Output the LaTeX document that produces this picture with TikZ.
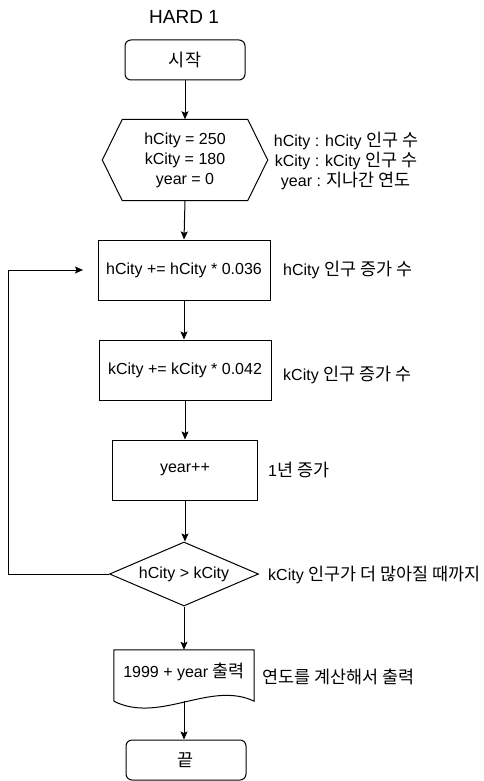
\documentclass[tikz,border=0pt]{standalone}
\usepackage{fontspec}
\setmainfont{Liberation Sans}
\newfontfamily\krfont[Scale=1.09]{Noto Sans CJK KR}
\newcommand{\ko}[1]{{\krfont #1}}
\usetikzlibrary{arrows.meta,calc,shapes.geometric}

\tikzset{
  flowbox/.style={draw, line width=1pt, align=center, inner sep=0pt, minimum height=60pt},
  termbox/.style={flowbox, rounded corners=6pt, minimum width=120pt, minimum height=40pt},
  condbox/.style={flowbox, diamond, aspect=2.3, minimum width=149pt, minimum height=64pt},
  plainbox/.style={align=center, inner sep=0pt},
  note/.style={anchor=west, inner sep=0pt},
  link/.style={line width=1pt, -{Stealth[length=8pt,width=7pt,inset=1.5pt]}},
}

\begin{document}
\begin{tikzpicture}[x=1pt,y=-1pt,every node/.style={font=\fontsize{16}{20}\selectfont}]
  \useasboundingbox (0,0) rectangle (483,781);

  \node[font=\fontsize{19}{22}\selectfont] (title) at (184,17) {HARD 1};

  % flow
  \node[termbox] (start) at (185,60) {\ko{시작}};
  \node[plainbox, minimum width=165pt, minimum height=81pt] (init) at (185,160)
    {hCity = 250\\kCity = 180\\year = 0};
  \draw[line width=1pt] (init.west) -- ($(init.north west)+(20,0)$) -- ($(init.north east)+(-20,0)$)
    -- (init.east) -- ($(init.south east)+(-20,0)$) -- ($(init.south west)+(20,0)$) -- cycle;
  \node[flowbox, minimum width=172pt] (hgrow) at (184,270) {hCity += hCity * 0.036};
  \node[flowbox, minimum width=172pt] (kgrow) at (185,370) {kCity += kCity * 0.042};
  \node[flowbox, minimum width=145pt] (ygrow) at (185,470) {year++};
  \node[condbox] (cond) at (184,574) {hCity > kCity};
  \node[plainbox, minimum width=140pt, minimum height=51pt] (out) at (184,675.5) {};
  \node[plainbox] (outtext) at (184,672) {1999 + year \ko{출력}};
  \draw[line width=1pt] (out.south west) -- (out.north west) -- (out.north east) -- (out.south east)
    .. controls +(-44,-21) and +(46,23) .. (out.south west);
  \node[termbox] (stop) at (186,760) {\ko{끝}};

  % notes
  \node[plainbox] (initnote) at (346,161)
    {hCity : hCity \ko{인구 수}\\kCity : kCity \ko{인구 수}\\year : \ko{지나간 연도}};
  \node[note] (hnote) at (283,270) {hCity \ko{인구 증가 수}};
  \node[note] (knote) at (283,375) {kCity \ko{인구 증가 수}};
  \node[note] (ynote) at (268,470) {1\ko{년 증가}};
  \node[note] (cnote) at (268,575) {kCity \ko{인구가 더 많아질 때까지}};
  \node[note] (onote) at (262,677) {\ko{연도를 계산해서 출력}};

  % connectors
  \coordinate (loopx) at (8,270);
  \coordinate (back) at (83,270);
  \draw[link] (start.south) -- (init.north);
  \draw[link] (init.south) -- (hgrow.north);
  \draw[link] (hgrow.south) -- (hgrow.south |- kgrow.north);
  \draw[link] (kgrow.south) -- (ygrow.north);
  \draw[link] (ygrow.south) -- (ygrow.south |- cond.north);
  \draw[link] (cond.south) -- (cond.south |- out.north);
  \draw[link] (cond.south |- out.south) -- (stop.north -| cond.south);
  \draw[link] (cond.west) -| (loopx) -- (back);
\end{tikzpicture}
\end{document}
